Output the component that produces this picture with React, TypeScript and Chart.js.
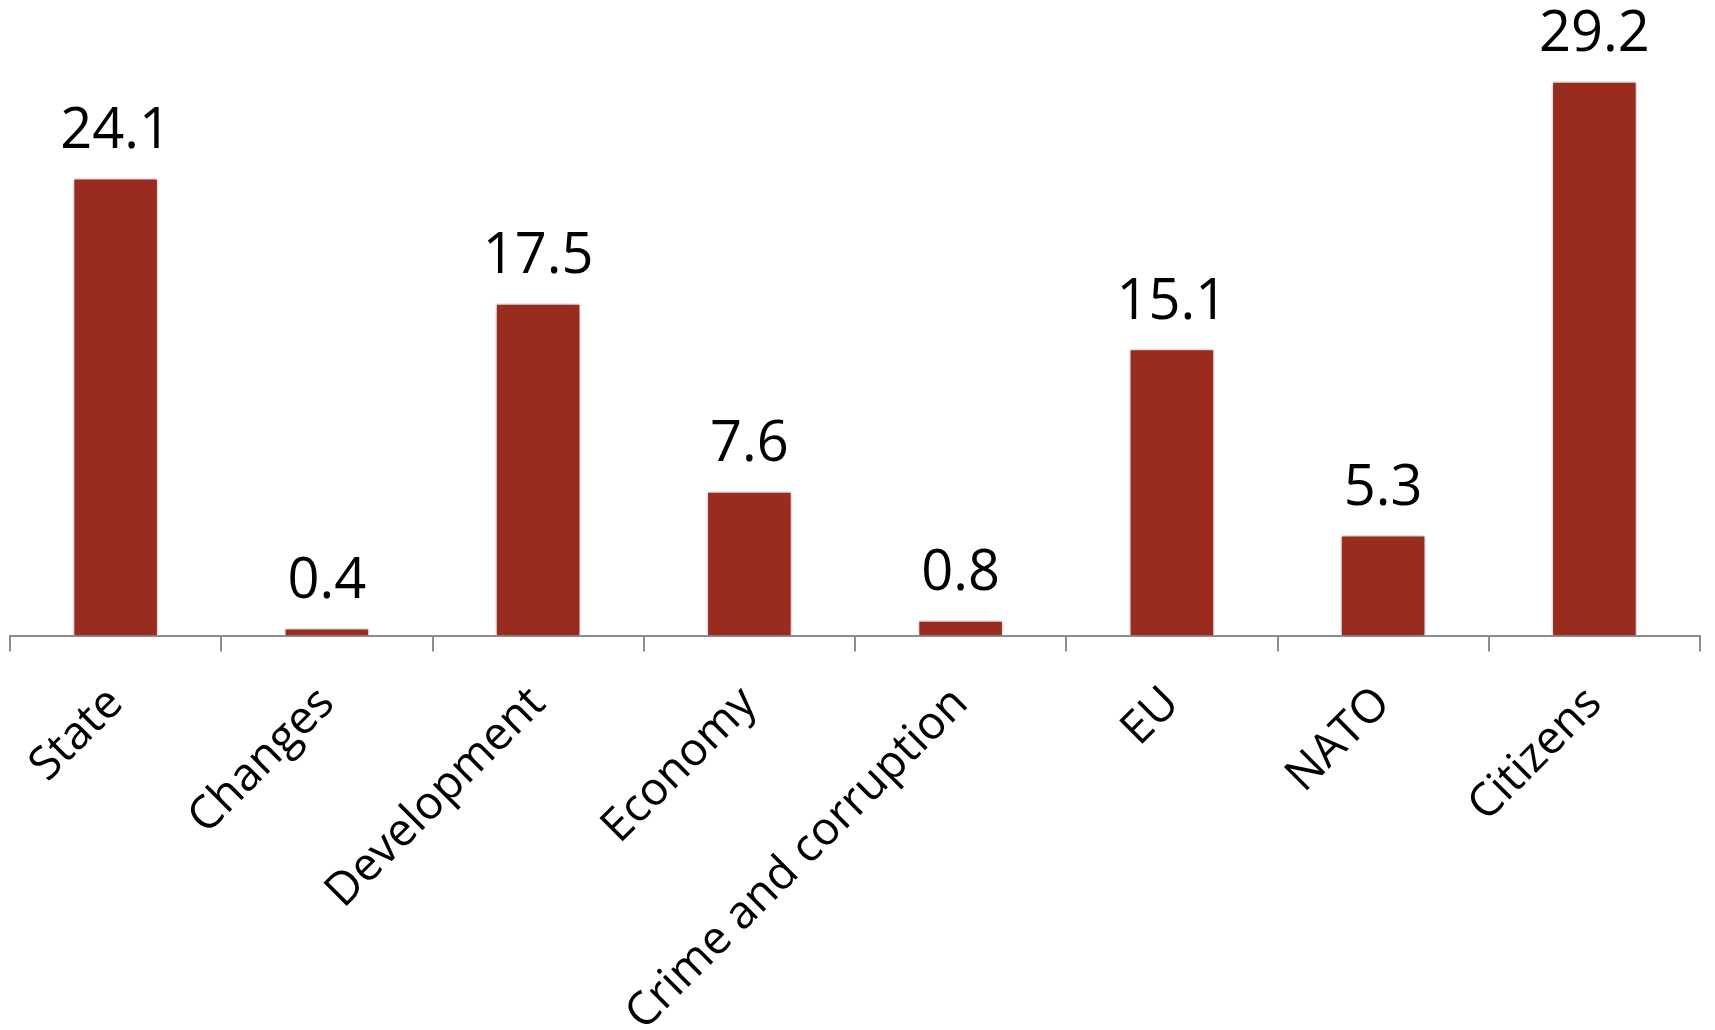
import React, { useEffect, useRef } from "react";
import { Chart, registerables } from "chart.js";

Chart.register(...registerables);

const categories = ["State", "Changes", "Development", "Economy", "Crime and corruption", "EU", "NATO", "Citizens"];
const values = [24.1, 0.4, 17.5, 7.6, 0.8, 15.1, 5.3, 29.2];

const FONT = "'Open Sans', 'DejaVu Sans', sans-serif";

const shadowPlugin = {
  id: "barShadow",
  beforeDatasetsDraw(chart: any) {
    const ctx = chart.ctx;
    ctx.save();
    ctx.shadowColor = "rgba(0,0,0,0.3)";
    ctx.shadowBlur = 6;
    ctx.shadowOffsetX = 0;
    ctx.shadowOffsetY = 0;
  },
  afterDatasetsDraw(chart: any) {
    chart.ctx.restore();
    const ctx = chart.ctx;
    const meta = chart.getDatasetMeta(0);
    ctx.save();
    ctx.font = `56px ${FONT}`;
    ctx.fillStyle = "#000";
    ctx.textAlign = "center";
    ctx.textBaseline = "alphabetic";
    meta.data.forEach((bar: any, i: number) => {
      ctx.fillText(values[i].toFixed(1), bar.x, bar.y - 30);
    });
    ctx.restore();
  },
};

export default function App() {
  const ref = useRef<HTMLCanvasElement>(null);
  useEffect(() => {
    if (!ref.current) return;
    const chart = new Chart(ref.current, {
      type: "bar",
      data: {
        labels: categories,
        datasets: [
          {
            data: values,
            backgroundColor: "#992B1F",
            borderColor: "#ffffff",
            borderWidth: 1.5,
            barPercentage: 0.405,
            categoryPercentage: 1,
          },
        ],
      },
      options: {
        responsive: false,
        animation: false,
        layout: { padding: { left: 10, right: 15, top: 66, bottom: 0 } },
        plugins: { legend: { display: false }, tooltip: { enabled: false } },
        scales: {
          y: { display: false, min: 0, max: 30 },
          x: {
            afterFit: (s: any) => {
              s.height = 394.5;
            },
            border: { display: true, color: "#8c8c8c", width: 2 },
            grid: {
              display: true,
              drawOnChartArea: false,
              drawTicks: true,
              tickLength: 16,
              color: "#8c8c8c",
              lineWidth: 2,
              offset: true,
            },
            ticks: {
              minRotation: 45,
              maxRotation: 45,
              padding: 25,
              color: "#000",
              font: { family: FONT, size: 46 },
            },
          },
        },
      },
      plugins: [shadowPlugin],
    });
    return () => chart.destroy();
  }, []);
  return (
    <div style={{ position: "absolute", left: 0, top: 0 }}>
      <canvas ref={ref} width={1715} height={1030} />
    </div>
  );
}
